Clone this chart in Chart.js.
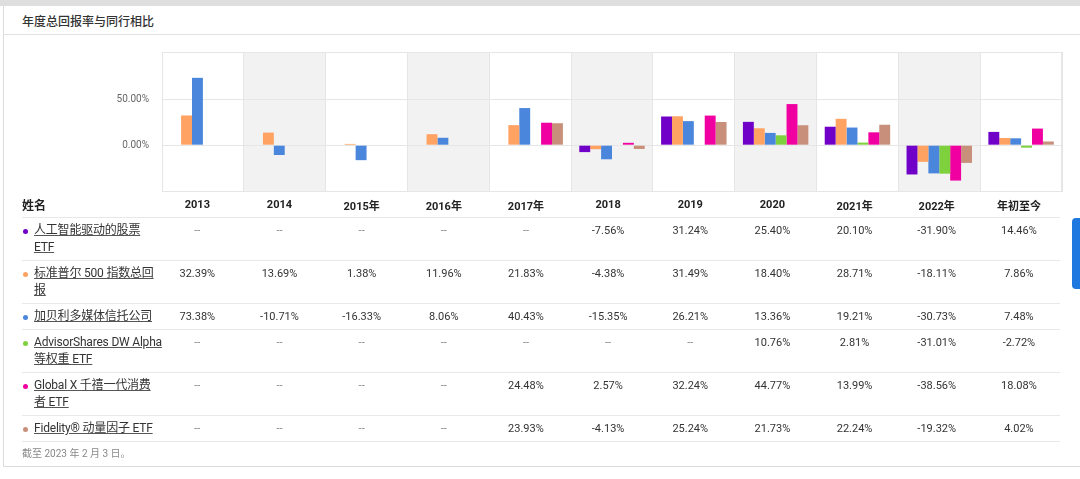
<!DOCTYPE html>
<html>
<head>
<meta charset="utf-8">
<script src="https://cdn.jsdelivr.net/npm/chart.js@4.4.1/dist/chart.umd.min.js"></script>
<style>
  body { margin: 0; width: 1080px; height: 479px; overflow: hidden; background: #fff; position: relative;
         font-family: Roboto, "Noto Sans CJK SC", sans-serif; color: #333; }
  .topband { position: absolute; left: 0; top: 0; width: 1080px; height: 6px; background: #dedede; }
  .leftline { position: absolute; left: 3px; top: 6px; width: 1px; height: 461px; background: #dcdcdc; }
  .title { position: absolute; left: 22px; top: 12px; font-size: 12px; font-weight: 500; color: #333; }
  .titleline { position: absolute; left: 4px; top: 34px; width: 1076px; height: 1px; background: #e2e2e2; }
  .bottomline { position: absolute; left: 3px; top: 466px; width: 1077px; height: 1px; background: #dcdcdc; }
  #wrap { position: absolute; left: 0; top: 44px; width: 1080px; height: 154px; }
  table { position: absolute; left: 22px; top: 192px; border-collapse: collapse; table-layout: fixed; width: 1038px; }
  th { height: 25px; padding: 0; font-size: 11px; font-weight: 700; color: #222; text-align: center;
       border-bottom: 1px solid #e8e8e8; }
  th.name { text-align: left; font-size: 12px; }
  td { padding: 4px 0; line-height: 17px; font-size: 11px; color: #333; text-align: center; vertical-align: top;
       border-bottom: 1px solid #e8e8e8; }
  td.name { text-align: left; position: relative; padding-left: 12px; font-size: 12px; white-space: nowrap;
            letter-spacing: -0.2px; }
  td.name u { text-decoration-color: #555; }
  .dot { position: absolute; left: 1px; top: 11px; width: 5px; height: 5px; border-radius: 50%; }
  td.na { color: #888; }
  .note { position: absolute; left: 22px; top: 445px; font-size: 10px; color: #888; }
  .tab { position: absolute; right: 0; top: 218px; width: 8px; height: 71px; background: #1f78e0;
         border-radius: 4px 0 0 4px; }
</style>
</head>
<body>
<div class="topband"></div>
<div class="leftline"></div>
<div class="title">年度总回报率与同行相比</div>
<div class="titleline"></div>
<div id="wrap"><canvas id="chart"></canvas></div>
<table id="tbl"></table>
<div class="note">截至 2023 年 2 月 3 日。</div>
<div class="bottomline"></div>
<div class="tab"></div>
<script>
const years = ['2013', '2014', '2015年', '2016年', '2017年', '2018', '2019', '2020', '2021年', '2022年', '年初至今'];

const aiEtf    = [null, null, null, null, null, -7.56, 31.24, 25.40, 20.10, -31.90, 14.46];
const sp500    = [32.39, 13.69, 1.38, 11.96, 21.83, -4.38, 31.49, 18.40, 28.71, -18.11, 7.86];
const gabelli  = [73.38, -10.71, -16.33, 8.06, 40.43, -15.35, 26.21, 13.36, 19.21, -30.73, 7.48];
const advisor  = [null, null, null, null, null, null, null, 10.76, 2.81, -31.01, -2.72];
const globalX  = [null, null, null, null, 24.48, 2.57, 32.24, 44.77, 13.99, -38.56, 18.08];
const fidelity = [null, null, null, null, 23.93, -4.13, 25.24, 21.73, 22.24, -19.32, 4.02];

const yTicks = [0, 50];

const series = [
  { lines: ['人工智能驱动的股票', 'ETF'], data: aiEtf, color: '#7000c8' },
  { lines: ['标准普尔 500 指数总回', '报'], data: sp500, color: '#ffa262' },
  { lines: ['加贝利多媒体信托公司'], data: gabelli, color: '#4a86dc' },
  { lines: ['AdvisorShares DW Alpha', '等权重 ETF'], data: advisor, color: '#7ed03c' },
  { lines: ['Global X 千禧一代消费', '者 ETF'], data: globalX, color: '#f000a0' },
  { lines: ['Fidelity® 动量因子 ETF'], data: fidelity, color: '#c8907a' },
];

const fmt = (v) => (v == null ? '--' : v.toFixed(2) + '%');

// table under the chart
let html = '<colgroup><col style="width:134px">' + years.map(() => '<col style="width:82px">').join('') + '</colgroup>';
html += '<tr><th class="name">姓名</th>' + years.map((y) => `<th>${y}</th>`).join('') + '</tr>';
series.forEach((s) => {
  html += `<tr><td class="name"><span class="dot" style="background:${s.color}"></span><u>${s.lines.join('</u><br><u>')}</u></td>`;
  html += s.data.map((v) => `<td class="${v == null ? 'na' : ''}">${fmt(v)}</td>`).join('') + '</tr>';
});
document.getElementById('tbl').innerHTML = html;

const columnBands = {
  id: 'columnBands',
  beforeDraw(chart) {
    const { ctx, chartArea: a, scales: { x } } = chart;
    const w = (a.right - a.left) / years.length;
    ctx.save();
    ctx.fillStyle = '#f2f2f2';
    years.forEach((y, i) => {
      if (i % 2 === 1) ctx.fillRect(x.getPixelForValue(i) - w / 2, a.top, w, a.bottom - a.top);
    });
    ctx.strokeStyle = '#e6e6e6';
    ctx.lineWidth = 1;
    ctx.strokeRect(a.left + 0.5, a.top + 0.5, a.right - a.left - 1, a.bottom - a.top - 1);
    ctx.restore();
  },
};

new Chart(document.getElementById('chart'), {
  type: 'bar',
  data: {
    labels: years,
    datasets: series.map((s) => ({
      label: s.lines.join(''),
      data: s.data,
      backgroundColor: s.color,
      borderWidth: 0,
      categoryPercentage: 0.8,
      barPercentage: 1.0,
    })),
  },
  options: {
    responsive: true,
    maintainAspectRatio: false,
    animation: false,
    layout: { padding: { top: 8, bottom: 6, right: 18, left: 0 } },
    plugins: { legend: { display: false }, tooltip: { enabled: false } },
    scales: {
      x: {
        offset: true,
        grid: { color: '#e6e6e6', drawTicks: false, offset: true },
        border: { display: false },
        ticks: { display: false },
        afterFit: (s) => { s.height = 0; },
      },
      y: {
        min: -51,
        max: 101.5,
        afterBuildTicks: (axis) => { axis.ticks = yTicks.map((v) => ({ value: v })); },
        afterFit: (s) => { s.width = 162; },
        grid: { color: '#e6e6e6', drawTicks: true, tickLength: 13, tickColor: 'rgba(0,0,0,0)' },
        border: { display: false },
        ticks: {
          padding: 0,
          color: '#666',
          font: { family: 'Roboto', size: 10 },
          callback: (v) => Number(v).toFixed(2) + '%',
        },
      },
    },
  },
  plugins: [columnBands],
});
</script>
</body>
</html>
